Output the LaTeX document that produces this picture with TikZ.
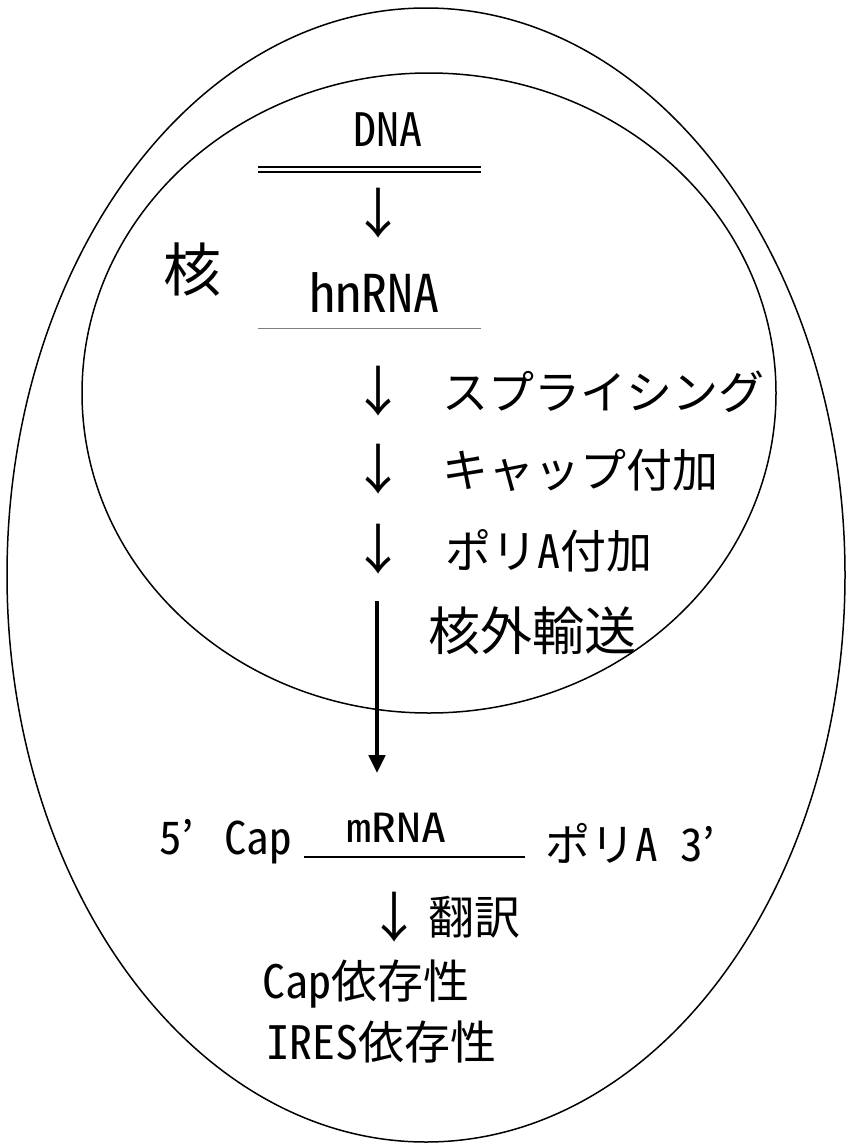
\documentclass[tikz,border=0pt]{standalone}
\usepackage{fontspec}
\setmainfont{Noto Sans CJK JP}[RawFeature=+hwid]
\usetikzlibrary{arrows.meta}

\begin{document}
\begin{tikzpicture}[x=1pt, y=-1pt,
  txt/.style={inner sep=0pt, font=\fontsize{46}{50}\selectfont},
  bigtxt/.style={inner sep=0pt, font=\fontsize{52}{56}\selectfont},
  smalltxt/.style={inner sep=0pt, font=\fontsize{45}{48}\selectfont},
  arr/.style={inner sep=0pt, font=\fontsize{54}{56}\selectfont},
  dnline/.style={line width=2pt},
  bigarrow/.style={line width=4.5pt, -{Triangle[length=18pt, width=16pt]}},
  ]
\useasboundingbox (0,0) rectangle (846,1143);

% cell and nucleus
\draw[line width=1.5pt] (426,575) ellipse [x radius=419pt, y radius=567pt];
\draw[line width=1.5pt] (429,393) ellipse [x radius=347pt, y radius=320pt];

\node[txt] (dna) at (388,130) {DNA};
\draw[dnline] (258,167) -- (481,167);
\draw[dnline] (258,172) -- (481,172);
\node[arr] (a1) at (378,213) {↓};

\node[inner sep=0pt, font=\fontsize{58}{60}\selectfont] (kaku) at (192,270) {核};
\node[bigtxt] (hnrna) at (374,293) {hnRNA};
\draw[gray, line width=1pt] (258,328) -- (481,328);

\node[arr] (a2) at (378,391) {↓};
\node[txt, anchor=west] (splice) at (442,392) {スプライシング};
\node[arr] (a3) at (378,469) {↓};
\node[txt, anchor=west] (cap) at (442,470) {キャップ付加};
\node[arr] (a4) at (378,549) {↓};
\node[txt, anchor=west] (polya) at (445,551) {ポリA付加};
\node[bigtxt, anchor=west] (export) at (428,631) {核外輸送};

\node[inner sep=0pt, font=\fontsize{40}{44}\selectfont] (mrna) at (396,828) {\scalebox{1.25}[1]{mRNA}};
\coordinate (exportstart) at (377,601);
\draw[bigarrow, shorten >=40pt] (exportstart) -- (exportstart |- mrna.north);

\draw[line width=1.5pt] (304,857) -- (525,857);
\node[smalltxt, anchor=east] (five) at (292,842) {5’\hspace{30pt}Cap};
\node[smalltxt, anchor=west] (three) at (545,843) {ポリA 3’};

\node[arr] (a5) at (394,917) {↓};
\node[txt, anchor=west] (transl) at (428,917) {翻訳};
\node[txt, anchor=west] (capdep) at (262,984) {Cap依存性};
\node[txt, anchor=west] (iresdep) at (266,1042) {IRES依存性};

\end{tikzpicture}
\end{document}
